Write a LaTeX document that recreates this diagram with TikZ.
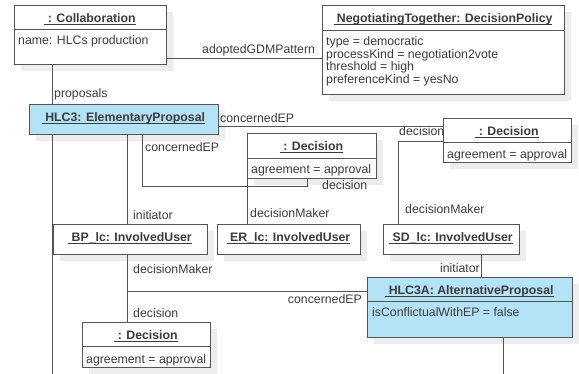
\documentclass[tikz,border=0pt]{standalone}
\usepackage{fontspec}
\setmainfont{Liberation Sans}
\usetikzlibrary{calc,shadows}
\definecolor{txt}{HTML}{3C3C3C}
\definecolor{ln}{HTML}{555555}
\definecolor{bluef}{RGB}{180,226,247}
\definecolor{shd}{HTML}{EDEDED}
\newcommand\ulhd[1]{\setbox0\hbox{\bfseries\ #1}\rlap{\rule[-1.3pt]{\wd0}{0.7pt}}\box0}
\begin{document}
\begin{tikzpicture}[x=1pt,y=-1pt,
  font=\fontsize{12.3}{14}\selectfont, text=txt,
  box/.style={draw=ln, line width=0.9pt, fill=white, inner sep=0pt, outer sep=0pt, anchor=north west,
    drop shadow={shadow xshift=7pt, shadow yshift=-7pt, fill=shd, draw=none, opacity=1}},
  bluebox/.style={box, fill=bluef},
  hd/.style={inner sep=0pt, anchor=base},
  attr/.style={inner sep=0pt, anchor=base west},
  lbl/.style={inner sep=0pt, anchor=base west},
  lblr/.style={inner sep=0pt, anchor=base east},
  sep/.style={draw=ln, line width=0.9pt},
  conn/.style={draw=ln, line width=0.8pt}]
\useasboundingbox (0,0) rectangle (579,374);
\coordinate (bot) at (0,374);

% boxes
\node[box, minimum width=152pt, minimum height=59pt] (collab) at (14,5) {};
\node[box, minimum width=242pt, minimum height=89pt] (policy) at (322,5) {};
\node[bluebox, minimum width=189pt, minimum height=30pt] (ep) at (29,104) {};
\node[box, minimum width=128pt, minimum height=44pt] (dec2) at (443,118) {};
\node[box, minimum width=129pt, minimum height=45pt] (dec1) at (247,133) {};
\node[box, minimum width=154pt, minimum height=30pt] (bp) at (53,224) {};
\node[box, minimum width=143pt, minimum height=30pt] (er) at (217,224) {};
\node[box, minimum width=136pt, minimum height=30pt] (sd) at (383,224) {};
\node[bluebox, minimum width=205pt, minimum height=60pt] (ap) at (367,277) {};
\node[box, minimum width=128pt, minimum height=45pt] (dec3) at (82,322) {};

% separators
\draw[sep] ($(collab.north west)+(0,24)$) -- ($(collab.north east)+(0,24)$);
\draw[sep] ($(policy.north west)+(0,25)$) -- ($(policy.north east)+(0,25)$);
\draw[sep] ($(dec2.north west)+(0,24)$) -- ($(dec2.north east)+(0,24)$);
\draw[sep] ($(dec1.north west)+(0,25)$) -- ($(dec1.north east)+(0,25)$);
\draw[sep] ($(ap.north west)+(0,24)$) -- ($(ap.north east)+(0,24)$);
\draw[sep] ($(dec3.north west)+(0,24)$) -- ($(dec3.north east)+(0,24)$);

% headers
\node[hd] (collabT) at ($(collab.north)+(0,18)$) {\ulhd{: Collaboration}};
\node[hd] (policyT) at ($(policy.north)+(0,18)$) {\ulhd{NegotiatingTogether: DecisionPolicy}};
\node[hd] (epT) at ($(ep.north)+(0,18)$) {\ulhd{HLC3: ElementaryProposal}};
\node[hd] (dec2T) at ($(dec2.north)+(0,18)$) {\ulhd{: Decision}};
\node[hd] (dec1T) at ($(dec1.north)+(0,18)$) {\ulhd{: Decision}};
\node[hd] (bpT) at ($(bp.north)+(0,18)$) {\ulhd{BP\_lc: InvolvedUser}};
\node[hd] (erT) at ($(er.north)+(0,18)$) {\ulhd{ER\_lc: InvolvedUser}};
\node[hd] (sdT) at ($(sd.north)+(0,18)$) {\ulhd{SD\_lc: InvolvedUser}};
\node[hd] (apT) at ($(ap.north)+(0,18)$) {\ulhd{HLC3A: AlternativeProposal}};
\node[hd] (dec3T) at ($(dec3.north)+(0,18)$) {\ulhd{: Decision}};

% attributes
\node[attr] (collabA) at ($(collab.north west)+(4,40)$) {name: HLCs production};
\node[attr] (pol1) at ($(policy.north west)+(4,41)$) {type = democratic};
\node[attr] (pol2) at ($(policy.north west)+(4,53.4)$) {processKind = negotiation2vote};
\node[attr] (pol3) at ($(policy.north west)+(4,65.8)$) {threshold = high};
\node[attr] (pol4) at ($(policy.north west)+(4,78.2)$) {preferenceKind = yesNo};
\node[attr] (dec2A) at ($(dec2.north west)+(4,41)$) {agreement = approval};
\node[attr] (dec1A) at ($(dec1.north west)+(4,41)$) {agreement = approval};
\node[attr] (apA) at ($(ap.north west)+(5,40)$) {isConflictualWithEP = false};
\node[attr] (dec3A) at ($(dec3.north west)+(4,41)$) {agreement = approval};

% connectors
\coordinate (c1) at ($(collab.south west)+(38,0)$);
\draw[conn] (c1) -- (c1 |- ep.north);
\coordinate (c2) at ($(collab.south east)+(0,-6)$);
\draw[conn] (c2) -- (c2 -| policy.west);
\coordinate (c3) at ($(ep.south east)+(0,-8)$);
\draw[conn] (c3) -- (c3 -| dec2.west);
\coordinate (c4) at ($(dec2.north west)+(0,23)$);
\coordinate (c4b) at ($(sd.north west)+(15,0)$);
\draw[conn] (c4) -| (c4b);
\coordinate (c5) at ($(sd.south west)+(98,0)$);
\draw[conn] (c5) -- (c5 |- ap.north);
\coordinate (c6) at ($(ap.south west)+(136,0)$);
\draw[conn] (c6) -- (c6 |- bot);
\coordinate (c7) at ($(ep.south west)+(113,0)$);
\coordinate (c7b) at ($(dec1.south west)+(60,0)$);
\draw[conn] (c7) |- ($(c7b)+(0,8)$) -- (c7b);
\draw[conn] (dec1.south west) -- (dec1.south west |- er.north);
\coordinate (c8) at ($(ep.south west)+(98,0)$);
\draw[conn] (c8) -- (c8 |- bp.north);
\coordinate (c9) at ($(bp.south west)+(74,0)$);
\draw[conn] (c9) -- (c9 |- dec3.north);
\coordinate (c10) at ($(ap.north west)+(0,14)$);
\draw[conn] (c10) -- (c10 -| c9);
\coordinate (c11) at ($(ep.south west)+(23,0)$);
\draw[conn] (c11) -- (c11 |- bot);

% connector labels
\node[lbl] (l1) at (54,98) {proposals};
\node[lbl] (l2) at (202,54) {adoptedGDMPattern};
\node[lbl] (l3) at (220,123) {concernedEP};
\node[lbl] (l4) at (399,136) {decision};
\node[lbl] (l5) at (405,214) {decisionMaker};
\node[lblr] (l6) at (480,273) {initiator};
\node[lbl] (l7) at (145,152) {concernedEP};
\node[lbl] (l8) at (322,190) {decision};
\node[lbl] (l9) at (250,218) {decisionMaker};
\node[lbl] (l10) at (133,220) {initiator};
\node[lbl] (l11) at (133,274) {decisionMaker};
\node[lbl] (l12) at (133,318) {decision};
\node[lblr] (l13) at (362,304) {concernedEP};
\end{tikzpicture}
\end{document}
